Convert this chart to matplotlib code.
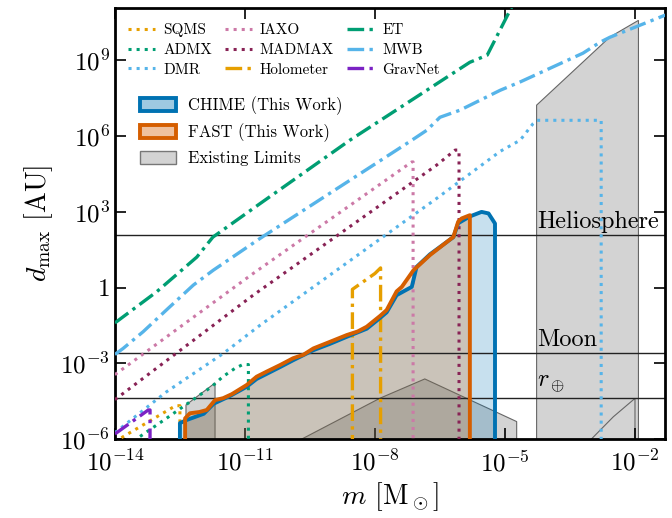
import numpy as np
import matplotlib.pyplot as plt
from matplotlib.patches import Patch
from matplotlib.ticker import FixedLocator, FixedFormatter, NullLocator

plt.rcParams['font.family'] = 'serif'
plt.rcParams['font.serif'] = ['cmr10']
plt.rcParams['mathtext.fontset'] = 'cm'
plt.rcParams['axes.formatter.use_mathtext'] = True

# curves as log10(m / Msun), log10(d_max / AU)
sqms_logm = [-13.85, -12.6, -12.5, -12.5]
sqms_logd = [-5.95, -4.68, -4.68, -6.5]
admx_logm = [-13.42, -12.81, -11.77, -11.51, -11.23, -11.05, -10.92, -10.92]
admx_logd = [-5.9, -5.18, -3.93, -3.53, -3.2, -3.05, -3.05, -6.5]
dmr_logm = [-14.0, -12.81, -11.5, -10.65, -6.58, -5.11, -4.65, -4.35, -4.26, -2.78, -2.78]
dmr_logd = [-5.75, -4.13, -2.61, -1.49, 3.53, 5.4, 5.84, 6.5, 6.63, 6.63, -6.5]
iaxo_logm = [-14.0, -10.81, -7.15, -7.12, -7.12]
iaxo_logd = [-3.45, 0.56, 4.98, 4.98, -6.5]
madmax_logm = [-14.0, -10.81, -6.58, -6.15, -6.06, -6.06]
madmax_logd = [-4.44, -0.3, 4.85, 5.45, 5.45, -6.5]
holo_logm = [-8.52, -8.52, -8.0, -7.87, -7.87]
holo_logd = [-6.5, -0.07, 0.56, 0.78, -6.5]
et_logm = [-14.0, -13.04, -12.5, -12.11, -11.74, -10.65, -8.58, -5.81, -5.41, -4.85]
et_logd = [-1.4, -0.17, 0.63, 1.21, 2.0, 3.33, 5.84, 8.93, 9.21, 11.1]
mwb_logm = [-14.0, -13.81, -13.35, -12.77, -12.19, -11.73, -10.65, -7.15, -6.8, -6.5,
            -6.04, -5.11, -4.65, -3.2, -2.81, -2.58, -1.3]
mwb_logd = [-2.65, -2.41, -1.75, -0.82, 0.1, 0.69, 1.95, 5.84, 6.24, 6.75,
            7.03, 7.82, 8.15, 9.29, 9.72, 9.92, 10.8]
gravnet_logm = [-14.0, -13.23, -13.19, -13.19]
gravnet_logd = [-5.8, -4.85, -4.85, -6.5]

fast_logm = [-12.38, -12.38, -12.27, -12.05, -11.88, -11.69, -11.5, -11.3, -10.96, -10.73,
             -10.5, -10.19, -9.89, -9.65, -9.42, -9.04, -8.65, -8.4, -8.19, -7.88,
             -7.73, -7.5, -7.38, -7.11, -6.73, -6.19, -6.08, -6.0, -5.81, -5.81]
fast_logd = [-6.5, -5.18, -4.98, -4.93, -4.85, -4.46, -4.38, -4.22, -3.86, -3.53,
             -3.33, -3.07, -2.8, -2.66, -2.41, -2.15, -1.88, -1.74, -1.55, -1.12,
             -0.89, -0.15, 0.03, 0.69, 1.29, 2.01, 2.61, 2.74, 2.87, -6.5]
chime_logm = [-12.5, -12.5, -12.35, -11.95, -11.72, -11.35, -10.96, -10.73, -10.5, -10.19,
              -9.89, -9.42, -9.04, -8.65, -8.19, -7.88, -7.73, -7.5, -7.15, -7.04,
              -6.73, -6.19, -6.08, -5.81, -5.54, -5.38, -5.23, -5.23]
chime_logd = [-6.5, -5.37, -5.25, -5.0, -4.6, -4.3, -3.93, -3.62, -3.42, -3.15,
              -2.88, -2.48, -2.23, -1.95, -1.63, -1.2, -0.98, -0.3, 0.03, 0.82,
              1.32, 2.0, 2.55, 2.82, 3.0, 2.94, 2.54, -6.5]

limits_logm = [
    [-12.36, -12.36, -11.69, -11.69],
    [-9.91, -7.88, -6.85, -4.73, -4.73],
    [-4.27, -4.27, -2.58, -1.92, -1.92],
    [-3.12, -2.5, -2.0, -2.0],
]
limits_logd = [
    [-6.5, -4.65, -3.78, -6.5],
    [-6.2, -4.38, -3.62, -5.31, -6.5],
    [-6.5, 7.23, 9.93, 10.59, -6.5],
    [-6.2, -5.12, -4.39, -6.5],
]

ref_names = ['Heliosphere', 'Moon', r'$r_\oplus$']
ref_dist = [120.0, 2.57e-3, 4.26e-5]

xticks = [1e-14, 1e-11, 1e-8, 1e-5, 1e-2]
xticklabels = [r'$10^{-14}$', r'$10^{-11}$', r'$10^{-8}$', r'$10^{-5}$', r'$10^{-2}$']
yticks = [1e-6, 1e-3, 1, 1e3, 1e6, 1e9]
yticklabels = [r'$10^{-6}$', r'$10^{-3}$', r'$1$', r'$10^{3}$', r'$10^{6}$', r'$10^{9}$']

c_orange = '#E69F00'
c_green = '#009E73'
c_sky = '#56B4E9'
c_pink = '#CC79A7'
c_wine = '#882255'
c_purple = '#7B22C4'
c_blue = '#0072B2'
c_red = '#D55E00'

dot = (0, (1, 1.65))
dashdot = (0, (5, 1.6, 1, 1.6))


def pw(a):
    return 10.0 ** np.asarray(a)


fig = plt.figure(figsize=(6.72, 5.18), dpi=100)
ax = fig.add_axes([0.171, 0.1525, 0.819, 0.832])

# existing limits
for lm, ld in zip(limits_logm, limits_logd):
    ax.fill(pw(lm), pw(ld), facecolor='#d3d3d3', edgecolor='#666666', lw=0.8, zorder=1)

# this work
ax.fill(pw(chime_logm), pw(chime_logd), facecolor=c_blue, alpha=0.22, lw=0, zorder=2)
ax.fill(pw(fast_logm), pw(fast_logd), facecolor=c_red, alpha=0.22, lw=0, zorder=2.1)

for d in ref_dist:
    ax.axhline(d, color='#222222', lw=1.0, zorder=2.5)
for name, d in zip(ref_names, ref_dist):
    ax.text(5.5e-5, d * 1.25, name, fontsize=17.5, ha='left', va='bottom', zorder=6)

lines = [
    (sqms_logm, sqms_logd, c_orange, dot, 'SQMS'),
    (admx_logm, admx_logd, c_green, dot, 'ADMX'),
    (dmr_logm, dmr_logd, c_sky, dot, 'DMR'),
    (iaxo_logm, iaxo_logd, c_pink, dot, 'IAXO'),
    (madmax_logm, madmax_logd, c_wine, dot, 'MADMAX'),
    (holo_logm, holo_logd, c_orange, dashdot, 'Holometer'),
    (et_logm, et_logd, c_green, dashdot, 'ET'),
    (mwb_logm, mwb_logd, c_sky, dashdot, 'MWB'),
    (gravnet_logm, gravnet_logd, c_purple, dashdot, 'GravNet'),
]
handles1 = []
for lm, ld, col, ls, lab in lines:
    lw = 2.2 if ls is dot else 2.4
    h, = ax.plot(pw(lm), pw(ld), color=col, ls=ls, lw=lw, label=lab, zorder=3)
    handles1.append(h)

ax.plot(pw(chime_logm), pw(chime_logd), color=c_blue, lw=2.8, zorder=4)
ax.plot(pw(fast_logm), pw(fast_logd), color=c_red, lw=2.8, zorder=5)

ax.set_xscale('log')
ax.set_yscale('log')
ax.set_xlim(1e-14, 5e-2)
ax.set_ylim(1e-6, 1.2e11)

ax.xaxis.set_major_locator(FixedLocator(xticks))
ax.xaxis.set_major_formatter(FixedFormatter(xticklabels))
ax.yaxis.set_major_locator(FixedLocator(yticks))
ax.yaxis.set_major_formatter(FixedFormatter(yticklabels))
ax.xaxis.set_minor_locator(NullLocator())
ax.yaxis.set_minor_locator(NullLocator())
ax.tick_params(which='major', direction='in', length=8, width=1.2,
               top=True, right=True, labelsize=18)
ax.tick_params(axis='x', pad=8)
for s in ax.spines.values():
    s.set_linewidth(2)

ax.set_xlabel(r'$m$ [M$_\odot$]', fontsize=20, labelpad=3)
ax.set_ylabel(r'$d_{\rm max}$ [AU]', fontsize=20)

leg1 = ax.legend(handles=handles1, loc='upper left', bbox_to_anchor=(0, 0.995), ncol=3,
                 frameon=False, fontsize=11, handlelength=1.8, handletextpad=0.5,
                 columnspacing=0.85, labelspacing=0.4, borderaxespad=0.45, borderpad=0.4)
ax.add_artist(leg1)

handles2 = [
    Patch(facecolor=(0.0, 0.447, 0.698, 0.38), edgecolor=c_blue, lw=2.8, label='CHIME (This Work)'),
    Patch(facecolor=(0.835, 0.369, 0.0, 0.38), edgecolor=c_red, lw=2.8, label='FAST (This Work)'),
    Patch(facecolor='#d3d3d3', edgecolor='#777777', lw=1.0, label='Existing Limits'),
]
ax.legend(handles=handles2, loc='upper left', bbox_to_anchor=(0.033, 0.81), frameon=False,
          fontsize=12, handlelength=2.2, handleheight=0.85, handletextpad=0.7,
          labelspacing=0.5, borderaxespad=0, borderpad=0.4)

fig.savefig('out.png', dpi=100)
